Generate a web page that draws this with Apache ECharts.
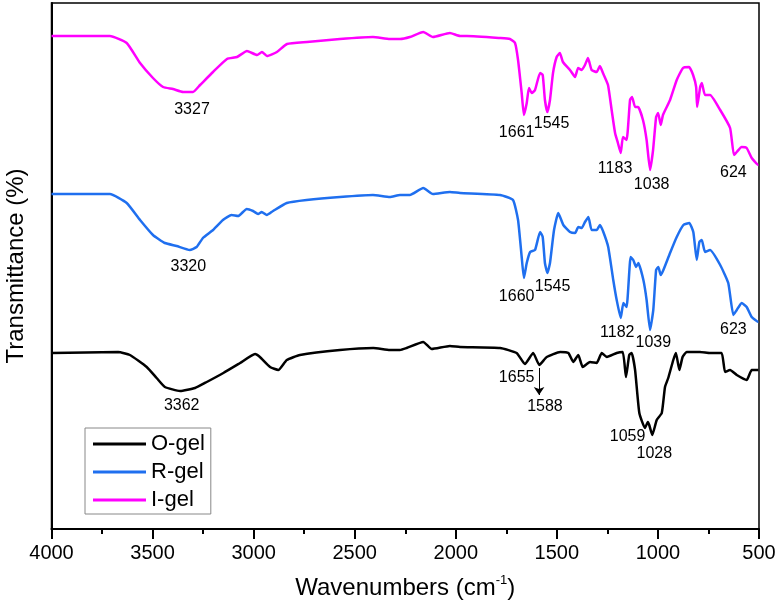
<!DOCTYPE html>
<html>
<head>
<meta charset="utf-8">
<script src="https://cdn.jsdelivr.net/npm/echarts@6/dist/echarts.min.js"></script>
<style>
html,body{margin:0;padding:0;background:#fff;}
#chart{width:778px;height:609px;}
</style>
</head>
<body>
<div id="chart"></div>
<script>
// x: wavenumber (cm-1), y: transmittance in arbitrary offset units
const xTicks = [4000, 3500, 3000, 2500, 2000, 1500, 1000, 500];
const seriesNames = ['O-gel', 'R-gel', 'I-gel'];

const iGel = [
  [4000,493],[3711,493],[3628,486],[3562,466],[3498,451],[3448,442],[3399,440],[3349,437],[3300,437],
  [3265,444],[3201,457],[3132,470],[3082,472],[3033,478],[2983,474],[2959,477],[2934,473],[2885,477],
  [2835,485],[2736,487],[2573,490],[2410,492],[2326,490],[2276,490],[2227,492],[2161,497],[2113,492],
  [2029,496],[1979,493],[1945,493],[1781,491],[1732,490],[1707,486],[1692,469],[1674,436],[1663,414],
  [1649,426],[1638,441],[1624,436],[1608,439],[1583,456],[1570,454],[1559,429],[1547,417],[1534,429],
  [1519,456],[1501,472],[1485,476],[1470,467],[1435,459],[1410,452],[1395,461],[1377,459],[1361,464],
  [1346,471],[1328,459],[1303,457],[1287,463],[1272,456],[1247,444],[1229,419],[1212,396],[1198,386],
  [1184,376],[1173,392],[1155,389],[1138,429],[1128,432],[1113,422],[1098,422],[1074,409],[1056,389],
  [1039,359],[1024,379],[1009,412],[999,416],[986,404],[975,414],[940,429],[907,449],[876,461],
  [846,462],[826,454],[811,442],[806,422],[791,442],[783,446],[767,434],[742,434],[692,419],[643,401],
  [624,374],[610,377],[586,382],[561,381],[536,371],[503,364],[500,364]
];

const rGel = [
  [4000,335],[3711,335],[3628,326],[3562,309],[3498,294],[3439,286],[3381,283],[3316,279],[3282,282],
  [3251,291],[3201,299],[3152,309],[3109,314],[3077,313],[3034,320],[3003,318],[2978,315],[2960,317],
  [2935,314],[2904,318],[2836,326],[2738,329],[2573,332],[2410,334],[2326,332],[2276,334],[2227,334],
  [2161,341],[2113,335],[2029,337],[1979,336],[1781,334],[1717,329],[1692,309],[1674,272],[1663,251],
  [1649,266],[1632,277],[1608,279],[1583,297],[1570,292],[1559,266],[1547,256],[1534,266],[1514,299],
  [1493,316],[1468,304],[1435,297],[1410,296],[1394,302],[1377,301],[1361,307],[1344,312],[1328,299],
  [1303,299],[1287,304],[1270,297],[1246,282],[1221,249],[1204,229],[1184,211],[1171,226],[1155,222],
  [1135,272],[1122,269],[1108,262],[1097,266],[1072,249],[1056,229],[1039,199],[1023,219],[1009,259],
  [998,262],[986,254],[973,259],[940,276],[907,292],[874,304],[845,306],[825,297],[808,269],[795,287],
  [783,289],[767,277],[742,279],[692,264],[652,246],[627,214],[610,219],[586,226],[561,222],[536,212],
  [503,207],[500,207]
];

const oGel = [
  [4000,176],[3670,177],[3612,174],[3529,162],[3480,151],[3439,142],[3364,138],[3290,141],[3232,147],
  [3150,156],[3067,166],[2993,175],[2969,172],[2919,162],[2878,159],[2836,169],[2771,174],[2573,179],
  [2408,181],[2326,179],[2276,179],[2243,181],[2161,187],[2119,180],[2029,183],[1979,182],[1781,181],
  [1699,176],[1658,165],[1617,176],[1587,164],[1550,172],[1484,177],[1443,176],[1419,167],[1394,174],
  [1372,162],[1336,167],[1303,166],[1278,176],[1253,172],[1204,176],[1174,177],[1158,152],[1142,174],
  [1130,176],[1113,159],[1092,116],[1064,101],[1050,107],[1043,104],[1028,94],[1006,109],[981,116],
  [965,142],[949,151],[924,169],[911,176],[894,159],[878,172],[858,177],[792,177],[742,176],[685,176],
  [668,157],[643,159],[610,154],[561,149],[536,159],[503,159],[500,159]
];

// peak labels: [wavenumber of label centre, level, text]
const iGelPeaks = [[3305,419,'3327'],[1699,396,'1661'],[1526,405,'1545'],[1212,360,'1183'],[1031,344,'1038'],[627,356,'624']];
const rGelPeaks = [[3323,262,'3320'],[1699,232,'1660'],[1521,242,'1545'],[1201,196,'1182'],[1023,186,'1039'],[627,199,'623']];
const oGelPeaks = [[3356,123,'3362'],[1699,151,'1655'],[1559,122,'1588'],[1150,92,'1059'],[1018,75,'1028']];
const oGelArrow = [[1588,161],[1588,134]];

const colors = {'O-gel':'#000000','R-gel':'#1f6fef','I-gel':'#ff00ff'};
const FONT = 'Liberation Sans, Arial, sans-serif';

function lineSeries(name, data) {
  return {
    name: name, type: 'line', data: data, symbol: 'none', showSymbol: false,
    smooth: 0.15,
    lineStyle: {color: colors[name], width: 2.5}, itemStyle: {color: colors[name]},
    z: 3
  };
}
function labelSeries(name, data, size) {
  return {
    name: name + ' peaks', type: 'scatter', data: data, symbol: 'circle', symbolSize: 1,
    itemStyle: {color: '#000', opacity: 0}, silent: true, z: 5,
    label: {show: true, position: 'inside', formatter: p => p.data[2], opacity: 1,
      color: '#000', textBorderWidth: 0, fontSize: size, fontFamily: FONT}
  };
}

const oSeries = lineSeries('O-gel', oGel);
oSeries.markLine = {
  silent: true, symbol: ['none', 'arrow'], symbolSize: 8,
  lineStyle: {color: '#000', width: 1, type: 'solid'}, label: {show: false},
  data: [[{coord: oGelArrow[0]}, {coord: oGelArrow[1]}]]
};

const chart = echarts.init(document.getElementById('chart'), null, {renderer: 'canvas'});
chart.setOption({
  animation: false,
  backgroundColor: '#fff',
  grid: {left: 51.5, right: 19, top: 3, bottom: 80, containLabel: false, outerBoundsMode: 'none',
    show: true, borderColor: '#000', borderWidth: 1.5, backgroundColor: 'transparent'},
  xAxis: {
    type: 'value', min: 500, max: 4000, interval: 500, inverse: true,
    axisLine: {show: true, lineStyle: {color: '#000', width: 2}},
    axisTick: {show: true, length: 10, lineStyle: {color: '#000', width: 2}},
    minorTick: {show: true, splitNumber: 2, length: 5, lineStyle: {color: '#000', width: 2}},
    splitLine: {show: false},
    axisLabel: {margin: 14, fontSize: 20, color: '#000', fontFamily: FONT,
      formatter: v => xTicks.indexOf(v) >= 0 ? String(v) : ''},
    name: '{a|Wavenumbers (cm}{b|-1}{a|)}',
    nameLocation: 'middle', nameGap: 45,
    nameTextStyle: {fontFamily: FONT, rich: {
      a: {fontSize: 24, color: '#000', fontFamily: FONT, lineHeight: 28},
      b: {fontSize: 13, color: '#000', fontFamily: FONT, verticalAlign: 'top', lineHeight: 28}
    }}
  },
  yAxis: {
    type: 'value', min: 0, max: 526,
    axisLine: {show: true, lineStyle: {color: '#000', width: 2}},
    axisTick: {show: false}, axisLabel: {show: false}, splitLine: {show: false},
    name: 'Transmittance (%)', nameLocation: 'middle', nameGap: 23,
    nameTextStyle: {fontSize: 24, color: '#000', fontFamily: FONT}
  },
  legend: {
    data: seriesNames, orient: 'vertical', left: 85, top: 428,
    icon: 'rect', itemWidth: 53, itemHeight: 3, itemGap: 4,
    backgroundColor: '#fff', borderColor: '#888', borderWidth: 1,
    padding: [4, 6, 2, 8],
    textStyle: {fontSize: 22, color: '#000', fontFamily: FONT, lineHeight: 24}
  },
  series: [
    oSeries,
    lineSeries('R-gel', rGel),
    lineSeries('I-gel', iGel),
    labelSeries('I-gel', iGelPeaks, 16),
    labelSeries('R-gel', rGelPeaks, 16),
    labelSeries('O-gel', oGelPeaks, 16)
  ]
});
</script>
</body>
</html>
